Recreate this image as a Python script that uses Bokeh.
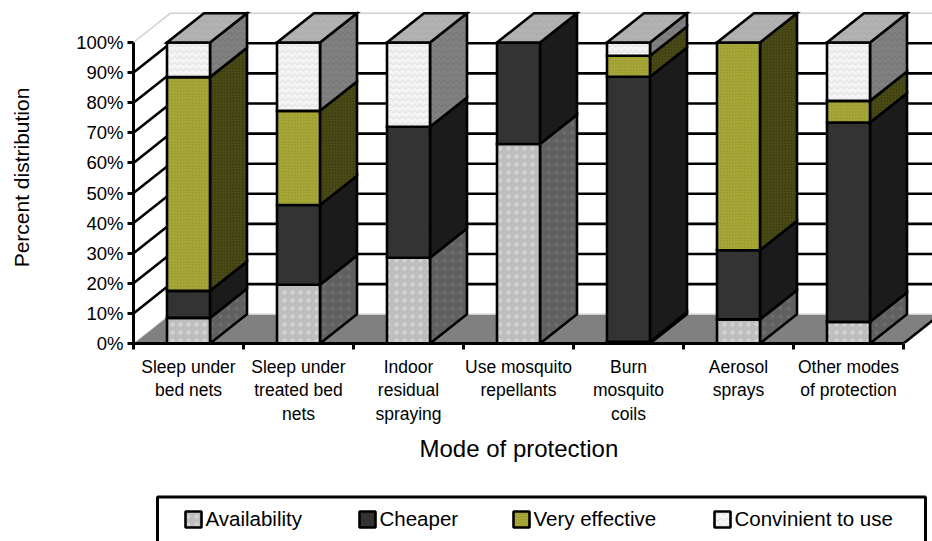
from bokeh.plotting import figure
from bokeh.embed import file_html
from bokeh.layouts import column
from bokeh.resources import INLINE
from bokeh.core.properties import value
from bokeh.models import FixedTicker, Range1d, Title, PrintfTickFormatter

categories = ["Sleep under\nbed nets", "Sleep under\ntreated bed\nnets", "Indoor\nresidual\nspraying",
              "Use mosquito\nrepellants", "Burn\nmosquito\ncoils", "Aerosol\nsprays",
              "Other modes\nof protection"]
series_names = ["Availability", "Cheaper", "Very effective", "Convinient to use"]
availability = [8.5, 19.5, 28.5, 66.3, 0.6, 8.0, 7.2]
cheaper = [9.0, 26.5, 43.5, 33.7, 88.0, 23.0, 66.2]
very_effective = [71.0, 31.3, 0.0, 0.0, 7.0, 69.0, 7.2]
convenient = [11.5, 22.7, 28.0, 0.0, 4.4, 0.0, 19.4]
y_ticks = [0, 10, 20, 30, 40, 50, 60, 70, 80, 90, 100]

UX, UY = 110.0, 3.01          # px per unit
DX, DY = 37 / UX, 29.3 / UY   # oblique depth in data units
BAR = 43 / UX
LW = 2.6

series = [availability, cheaper, very_effective, convenient]
n = len(categories)

styles = [
    dict(front="#bebebe", side="#606060", hatch="dot", hc="#e8e8e8", hcs="#7a7a7a", scale=8, w=0.6, ha=0.5),
    dict(front="#333333", side="#1b1b1b", hatch="blank", hc="#333333", hcs="#1b1b1b", scale=4, w=1.0, ha=1.0),
    dict(front="#9c9c2a", side="#50501a", hatch="criss_cross", hc="#aaaa40", hcs="#3e3e10", scale=3, w=0.6, ha=1.0),
    dict(front="#f4f4f4", side="#808080", hatch="horizontal_wave", hc="#d2d2d2", hcs="#6c6c6c", scale=6, w=0.8, ha=1.0),
]

p = figure(width=932, height=480, output_backend="svg", toolbar_location=None,
           x_range=Range1d(0, (932 - 133) / UX), y_range=Range1d(0, (343 - 11) / UY),
           min_border_left=133, min_border_right=0, min_border_top=11, min_border_bottom=137)
p.grid.visible = False
p.outline_line_color = None

# walls and floor
p.patch([0, DX, DX, 0], [0, DY, 100 + DY, 100], fill_color="white", line_color=None)
p.patch([0, DX, n + DX, n], [0, DY, DY, 0], fill_color="#808080", line_color=None)
for v in y_ticks:
    col, lw = ("#d0d0d0", 1.5) if v in (0, 100) else ("black", LW)
    if v != 0:
        p.line([0, DX], [v, v + DY], line_color=col, line_width=lw)
    p.line([DX, n + DX], [v + DY, v + DY], line_color=col, line_width=lw)
p.line([n, n + DX], [0, DY], line_color="black", line_width=LW)
p.line([0, DX], [0, DY], line_color="#d0d0d0", line_width=1)

# bars
for s, (vals, st) in enumerate(zip(series, styles)):
    fx, fy, sx, sy = [], [], [], []
    for i, v in enumerate(vals):
        if v <= 0:
            continue
        base = sum(series[k][i] for k in range(s))
        top = base + v
        l = i + 0.5 - BAR / 2
        r = i + 0.5 + BAR / 2
        fx.append([l, r, r, l]); fy.append([base, base, top, top])
        sx.append([r, r + DX, r + DX, r]); sy.append([base, base + DY, top + DY, top])
    p.patches(sx, sy, fill_color=st["side"], line_color="black", line_width=LW,
              hatch_pattern=st["hatch"], hatch_color=st["hcs"], hatch_scale=st["scale"],
              hatch_weight=st["w"], hatch_alpha=st["ha"], line_join="miter")
    p.patches(fx, fy, fill_color=st["front"], line_color="black", line_width=LW,
              hatch_pattern=st["hatch"], hatch_color=st["hc"], hatch_scale=st["scale"],
              hatch_weight=st["w"], hatch_alpha=st["ha"], line_join="miter")

tx, ty = [], []
for i in range(n):
    total = sum(sr[i] for sr in series)
    l = i + 0.5 - BAR / 2
    r = i + 0.5 + BAR / 2
    tx.append([l, r, r + DX, l + DX]); ty.append([total, total, total + DY, total + DY])
p.patches(tx, ty, fill_color="#b2b2b2", line_color="black", line_width=LW,
          hatch_pattern="horizontal_wave", hatch_color="#a6a6a6", hatch_scale=6, hatch_weight=0.8,
          line_join="miter")

# axes
ax = p.yaxis[0]
ax.ticker = FixedTicker(ticks=y_ticks)
ax.bounds = (0, 100)
ax.formatter = PrintfTickFormatter(format="%d%%")
ax.axis_line_width = 3
ax.major_tick_line_width = 3
ax.major_tick_out = 6
ax.major_tick_in = 0
ax.minor_tick_line_color = None
ax.major_label_text_font = "Liberation Sans"
ax.major_label_text_font_size = "18.5px"
ax.major_label_text_color = "black"
ax.major_label_standoff = 4
ax.axis_label = "Percent distribution"
ax.axis_label_text_font = "Liberation Sans"
ax.axis_label_text_font_size = "21px"
ax.axis_label_text_font_style = "normal"
ax.axis_label_text_color = "black"
ax.axis_label_standoff = 40

bx = p.xaxis[0]
centers = [i + 0.5 for i in range(n)]
bx.ticker = FixedTicker(ticks=centers, minor_ticks=list(range(n + 1)))
bx.bounds = (0, n)
bx.major_label_overrides = {c: t for c, t in zip(centers, categories)}
bx.axis_line_width = 3
bx.major_tick_in = 0
bx.major_tick_out = 0
bx.minor_tick_in = 0
bx.minor_tick_out = 6
bx.minor_tick_line_width = 3
bx.minor_tick_line_color = "black"
bx.major_label_text_font = "Liberation Sans"
bx.major_label_text_font_size = "17.5px"
bx.major_label_text_line_height = 1.18
bx.major_label_text_color = "black"
bx.major_label_standoff = 7

p.add_layout(Title(text="Mode of protection", align="left", offset=286, standoff=13,
                   text_font="Liberation Sans", text_font_size="24px", text_font_style="normal",
                   text_color="black"), "below")

# legend strip: a figure of its own, in page pixels, whose frame cuts the box at the page bottom.
# The column aligns its frame with the chart's, so its x range starts at the chart's left border.
legend_x = [185, 359, 513, 714]
lg = figure(width=932, height=61, output_backend="svg", toolbar_location=None,
            x_range=Range1d(133, 932), y_range=Range1d(541, 480),
            min_border_left=0, min_border_right=0, min_border_top=0, min_border_bottom=0)
lg.axis.visible = False
lg.grid.visible = False
lg.outline_line_color = None
lg.quad(left=[157], right=[925], top=[496.5], bottom=[570], fill_color="white",
        line_color="black", line_width=3)
for lx, name, st in zip(legend_x, series_names, styles):
    lg.quad(left=[lx], right=[lx + 16], top=[511], bottom=[527], fill_color=st["front"],
            line_color="black", line_width=LW, hatch_pattern=st["hatch"], hatch_color=st["hc"],
            hatch_scale=st["scale"], hatch_weight=st["w"], hatch_alpha=st["ha"])
    lg.text(x=[lx + 20], y=[518], text=[name], text_font=value("Liberation Sans"), text_font_size="20.5px",
            text_color="black", text_baseline="middle", text_align="left")

open("out.html", "w").write(file_html(column(p, lg, spacing=0), INLINE))
